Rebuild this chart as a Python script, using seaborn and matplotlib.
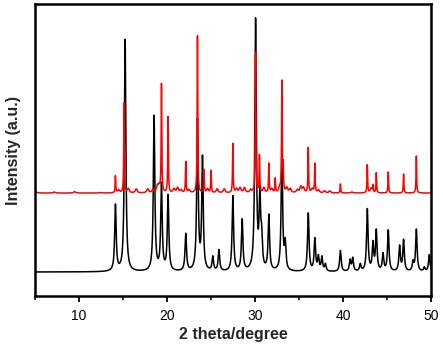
import numpy as np
import pandas as pd
import seaborn as sns
import matplotlib.pyplot as plt

# peak positions (2 theta) and heights
calc_pos = [14.14, 15.24, 18.53, 19.37, 20.12, 22.13, 23.46, 24.03, 25.2, 25.9,
            27.48, 28.54, 30.06, 30.55, 30.75, 31.57, 33.05, 33.43, 36.05, 36.8,
            37.2, 37.6, 38.0, 39.7, 40.8, 41.1, 41.96, 42.76, 43.4, 43.78,
            44.54, 45.14, 46.43, 46.88, 47.95, 48.33, 49.24, 49.8]
calc_h = [66, 232, 155, 86, 75, 37, 150, 112, 14, 21,
          75, 51, 250, 70, 28, 55, 117, 26, 58, 32,
          14, 14, 7, 21, 11, 13, 7, 62, 27, 40,
          17, 41, 25, 31, 9, 42, 4, 17]

exp_pos = [14.14, 15.12, 19.37, 20.12, 22.13, 23.46, 24.2, 25.0, 27.48, 30.06,
           30.5, 31.57, 32.3, 33.05, 33.2, 36.05, 36.8, 39.7, 42.76, 43.4,
           43.78, 45.14, 46.88, 48.33]
exp_h = [17, 90, 108, 76, 31, 157, 23, 22, 49, 140,
         37, 29, 14, 110, 25, 45, 29, 9, 28, 7,
         20, 21, 19, 37]

# small bumps in the measured pattern
bump_pos = [5.0, 7.2, 9.5, 12.5, 14.5, 15.6, 16.5, 17.8, 18.4, 18.9, 19.1, 20.8,
            21.2, 21.6, 22.5, 24.6, 25.7, 26.5, 27.9, 28.3, 28.8, 29.5, 31.0,
            31.9, 32.8, 33.6, 34.0, 34.8, 35.2, 35.5, 36.5, 37.2, 37.9, 38.5,
            41.0, 43.2]
bump_h = [3, 1, 1.5, 0.5, 3, 4, 4, 4, 3, 6, 6, 4,
          5, 3, 3, 4, 4, 4, 4, 5, 5, 3, 5,
          4, 5, 5, 4, 3, 6, 5, 4, 3, 2, 2,
          1, 5]

offset = 79  # vertical shift of the measured pattern


def lorentz(x, pos, h, w):
    y = np.zeros_like(x)
    for c, a in zip(pos, h):
        y += a * w**2 / ((x - c)**2 + w**2)
    return y


theta = np.arange(5, 50.0001, 0.005)
calc = lorentz(theta, calc_pos, calc_h, 0.1)
exp = lorentz(theta, exp_pos, exp_h, 0.04) + lorentz(theta, bump_pos, bump_h, 0.12) + offset

df = pd.DataFrame({"theta": theta, "calc": calc, "exp": exp})

sns.set_style("ticks")
plt.rcParams["font.family"] = ["Liberation Sans", "DejaVu Sans"]

fig = plt.figure(figsize=(4.43, 3.45), dpi=100)
ax = fig.add_axes([0.079, 0.142, 0.894, 0.846])

sns.lineplot(data=df, x="theta", y="calc", color="black", linewidth=1.1,
             estimator=None, sort=False, ax=ax)
sns.lineplot(data=df, x="theta", y="exp", color="red", linewidth=1.1,
             estimator=None, sort=False, ax=ax)

ax.set_xlim(5, 50)
ax.set_ylim(-24, 268)
ax.set_xticks([10, 20, 30, 40, 50])
ax.set_xticks([5, 15, 25, 35, 45], minor=True)
ax.set_yticks([])
ax.tick_params(axis="x", which="major", direction="out", length=4, width=1.3,
               labelsize=10, pad=5, colors="black")
ax.tick_params(axis="x", which="minor", direction="out", length=3, width=1.3)
for s in ax.spines.values():
    s.set_linewidth(1.8)
    s.set_color("black")
ax.set_xlabel("2 theta/degree", fontsize=11.5, fontweight="bold", labelpad=3)
ax.set_ylabel("Intensity (a.u.)", fontsize=11.5, fontweight="bold", labelpad=10)

fig.savefig("out.png", dpi=100)
